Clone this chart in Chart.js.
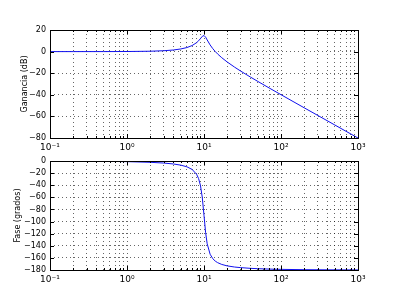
<!DOCTYPE html>
<html>
<head>
<meta charset="utf-8">
<script src="https://cdn.jsdelivr.net/npm/chart.js@4"></script>
<style>
html,body{margin:0;padding:0;background:#fff;}
#wrap{position:relative;width:398px;height:300px;}
canvas{position:absolute;left:0;top:0;}
</style>
</head>
<body>
<div id="wrap">
<canvas id="c1" width="398" height="300"></canvas>
<canvas id="c2" width="398" height="300"></canvas>
</div>
<script>
// Data
const freq = [0.1, 0.2, 0.5, 1, 2, 3, 4, 5, 6, 7, 8, 8.5, 9, 9.5, 10, 10.5, 11, 12, 13, 14, 15, 17, 20, 25, 30, 40, 50, 70, 100, 200, 500, 1000];
const gainDb = [0, 0, 0.02, 0.09, 0.35, 0.80, 1.48, 2.44, 3.75, 5.59, 8.23, 9.98, 12.05, 14.12, 14.89, 13.35, 10.79, 6.19, 2.75, 0.07, -2.14, -5.64, -9.60, -14.43, -18.08, -23.53, -27.61, -33.63, -39.91, -52.02, -67.96, -80.0];
const phaseDeg = [-0.1, -0.2, -0.52, -1.04, -2.15, -3.40, -4.90, -6.84, -9.58, -13.88, -21.8, -28.9, -40.5, -60.3, -90, -118.5, -136.7, -153.9, -161.3, -165.3, -167.8, -170.8, -173.2, -175.1, -176.1, -177.25, -177.85, -178.5, -178.96, -179.48, -179.79, -179.9];
const xMajorValues = [0.1, 1, 10, 100, 1000];
const xMajorLabels = ['10\u207B\u00B9', '10\u2070', '10\u00B9', '10\u00B2', '10\u00B3'];
const gainTicks = [-80, -60, -40, -20, 0, 20];
const phaseTicks = [-180, -160, -140, -120, -100, -80, -60, -40, -20, 0];
const gainTitle = 'Ganancia (dB)';
const phaseTitle = 'Fase (grados)';

// minor grid positions on the log axis (1..9 x decade)
const xGridValues = [];
for (let d = 0; d < xMajorValues.length; d++) {
  const base = xMajorValues[d];
  if (d === xMajorValues.length - 1) { xGridValues.push(base); break; }
  for (let m = 1; m <= 9; m++) xGridValues.push(+(base * m).toPrecision(6));
}

const FONT = 'DejaVu Sans';
const boxPlugin = {
  id: 'box',
  afterDraw(chart) {
    const a = chart.chartArea, ctx = chart.ctx;
    ctx.save();
    ctx.strokeStyle = '#000';
    ctx.lineWidth = 1;
    ctx.strokeRect(Math.round(a.left) + 0.5, Math.round(a.top) + 0.5, Math.round(a.right - a.left), Math.round(a.bottom - a.top));
    // inward tick marks like matplotlib
    ctx.beginPath();
    const xs = chart.scales.x, ys = chart.scales.y;
    xs.ticks.forEach(t => {
      const px = Math.round(xs.getPixelForValue(t.value)) + 0.5;
      const len = xMajorValues.some(v => Math.abs(v - t.value) / v < 1e-6) ? 4 : 2;
      ctx.moveTo(px, a.bottom); ctx.lineTo(px, a.bottom - len);
      ctx.moveTo(px, a.top); ctx.lineTo(px, a.top + len);
    });
    ys.ticks.forEach(t => {
      const py = Math.round(ys.getPixelForValue(t.value)) + 0.5;
      ctx.moveTo(a.left, py); ctx.lineTo(a.left + 4, py);
      ctx.moveTo(a.right, py); ctx.lineTo(a.right - 4, py);
    });
    ctx.stroke();
    ctx.restore();
  }
};

function makeChart(id, values, yTicks, title, padTop, padBottom, titlePad) {
  const pts = freq.map((f, i) => ({x: f, y: values[i]}));
  return new Chart(document.getElementById(id), {
    type: 'line',
    data: { datasets: [{ data: pts, borderColor: '#1010ee', borderWidth: 1, pointRadius: 0, tension: 0, fill: false }] },
    plugins: [boxPlugin],
    options: {
      responsive: false, animation: false, devicePixelRatio: 1,
      layout: { padding: { top: padTop, bottom: padBottom, left: 0, right: 40 } },
      plugins: { legend: { display: false }, tooltip: { enabled: false } },
      scales: {
        x: {
          type: 'logarithmic', min: 0.1, max: 1000,
          afterBuildTicks(scale) { scale.ticks = xGridValues.map(v => ({ value: v })); },
          afterFit(scale) { scale.height = 20; },
          grid: { color: 'rgba(0,0,0,0.6)', lineWidth: 1, drawTicks: false },
          border: { display: false, dash: [1, 3] },
          ticks: {
            autoSkip: false, maxRotation: 0, minRotation: 0, padding: 4,
            color: '#000', font: { family: FONT, size: 9 },
            callback(value) {
              const i = xMajorValues.findIndex(v => Math.abs(v - value) / v < 1e-6);
              return i >= 0 ? xMajorLabels[i] : '';
            }
          }
        },
        y: {
          min: yTicks[0], max: yTicks[yTicks.length - 1],
          afterBuildTicks(scale) { scale.ticks = yTicks.map(v => ({ value: v })); },
          afterFit(scale) { scale.width = 50; },
          grid: { color: 'rgba(0,0,0,0.6)', lineWidth: 1, drawTicks: false },
          border: { display: false, dash: [1, 3] },
          ticks: {
            autoSkip: false, padding: 4, color: '#000', font: { family: FONT, size: 8 },
            callback(value) { return String(value).replace('-', '\u2212'); }
          },
          title: { display: true, text: title, color: '#000', font: { family: FONT, size: 8 }, padding: { top: titlePad, bottom: 0 } }
        }
      }
    }
  });
}

makeChart('c1', gainDb, gainTicks, gainTitle, 30, 142, 20);
makeChart('c2', phaseDeg, phaseTicks, phaseTitle, 161, 10, 13);
</script>
</body>
</html>
